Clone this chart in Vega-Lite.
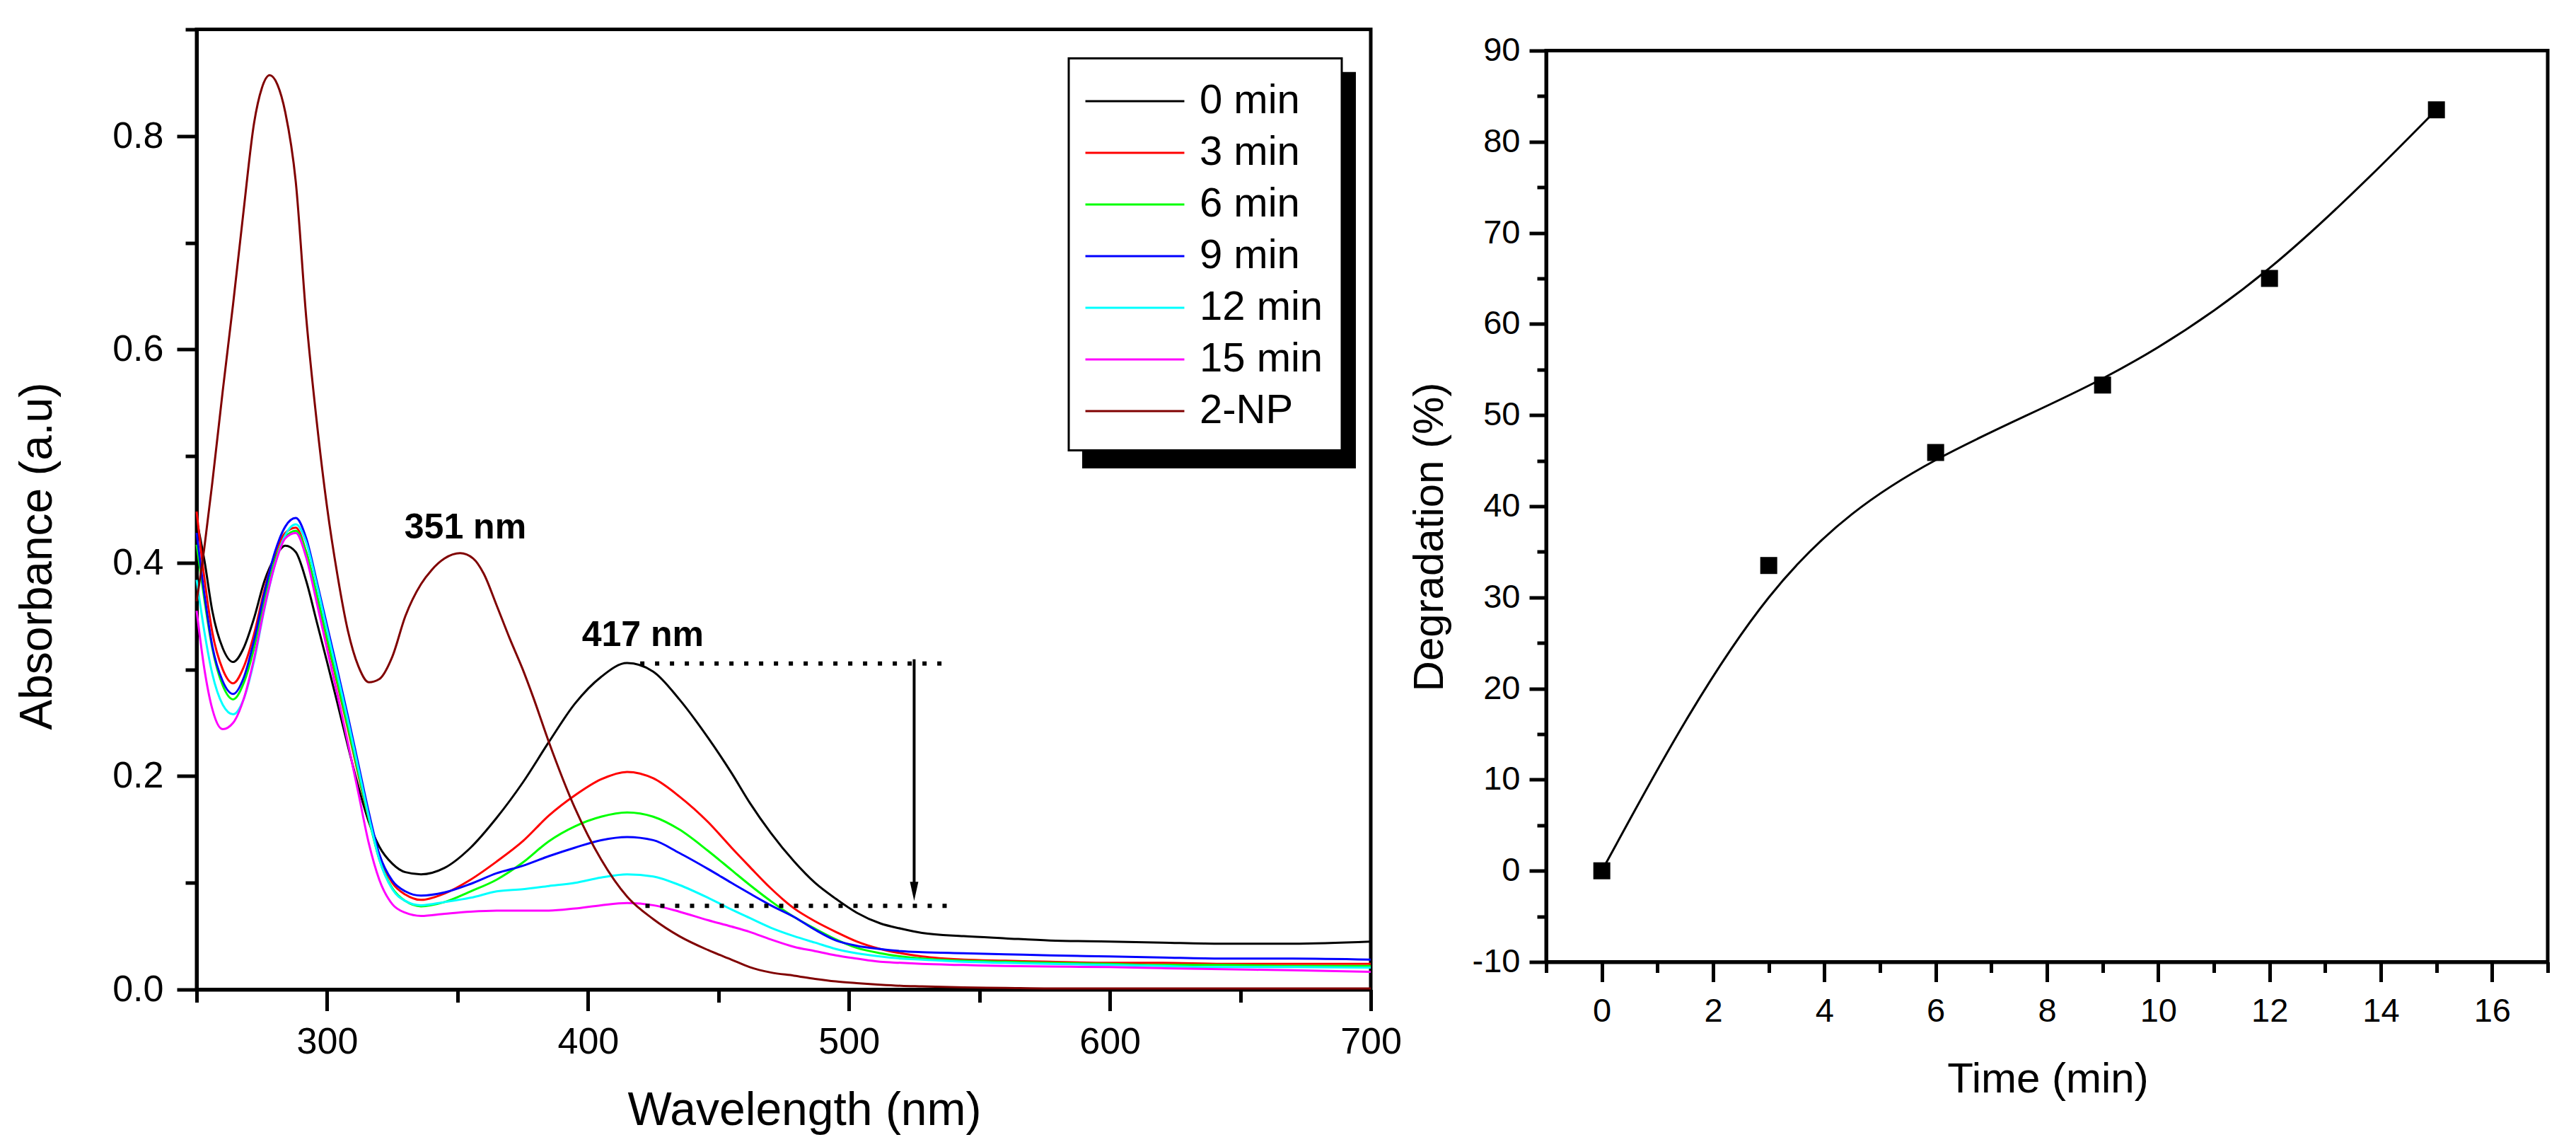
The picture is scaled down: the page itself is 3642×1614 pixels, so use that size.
{
  "$schema": "https://vega.github.io/schema/vega-lite/v6.json",
  "background": "white",
  "padding": {"left": 18, "top": 12.5, "right": 0, "bottom": 0},
  "spacing": 4,
  "config": {
    "font": "Liberation Sans",
    "view": {"stroke": "black", "strokeWidth": 5},
    "axis": {
      "grid": false, "domainColor": "black", "domainWidth": 5,
      "tickColor": "black", "tickWidth": 5,
      "labelColor": "black", "titleColor": "black",
      "labelFont": "Liberation Sans", "titleFont": "Liberation Sans",
      "titleFontWeight": "normal", "labelFlush": false, "labelOverlap": false
    },
    "legend": {"strokeColor": "black", "strokeWidth": 3, "fillColor": "white"}
  },
  "datasets": {
    "spectra": [
      {"s":"0 min","w":250,"a":0.440},{"s":"0 min","w":253,"a":0.402},{"s":"0 min","w":256,"a":0.355},{"s":"0 min","w":260,"a":0.320},{"s":"0 min","w":264,"a":0.307},
      {"s":"0 min","w":268,"a":0.320},{"s":"0 min","w":272,"a":0.348},{"s":"0 min","w":276,"a":0.383},{"s":"0 min","w":280,"a":0.405},{"s":"0 min","w":284,"a":0.416},
      {"s":"0 min","w":288,"a":0.410},{"s":"0 min","w":292,"a":0.383},{"s":"0 min","w":296,"a":0.345},{"s":"0 min","w":300,"a":0.307},{"s":"0 min","w":304,"a":0.268},
      {"s":"0 min","w":308,"a":0.228},{"s":"0 min","w":312,"a":0.190},{"s":"0 min","w":316,"a":0.157},{"s":"0 min","w":320,"a":0.134},{"s":"0 min","w":325,"a":0.118},
      {"s":"0 min","w":330,"a":0.110},{"s":"0 min","w":336,"a":0.108},{"s":"0 min","w":345,"a":0.114},{"s":"0 min","w":355,"a":0.133},{"s":"0 min","w":365,"a":0.161},
      {"s":"0 min","w":375,"a":0.194},{"s":"0 min","w":385,"a":0.232},{"s":"0 min","w":395,"a":0.268},{"s":"0 min","w":405,"a":0.293},{"s":"0 min","w":415,"a":0.306},
      {"s":"0 min","w":425,"a":0.298},{"s":"0 min","w":435,"a":0.272},{"s":"0 min","w":446,"a":0.236},{"s":"0 min","w":455,"a":0.203},{"s":"0 min","w":462,"a":0.175},
      {"s":"0 min","w":470,"a":0.147},{"s":"0 min","w":479,"a":0.120},{"s":"0 min","w":487,"a":0.100},{"s":"0 min","w":495,"a":0.085},{"s":"0 min","w":503,"a":0.072},
      {"s":"0 min","w":512,"a":0.062},{"s":"0 min","w":520,"a":0.057},{"s":"0 min","w":528,"a":0.053},{"s":"0 min","w":544,"a":0.050},{"s":"0 min","w":560,"a":0.048},
      {"s":"0 min","w":577,"a":0.046},{"s":"0 min","w":600,"a":0.045},{"s":"0 min","w":620,"a":0.044},{"s":"0 min","w":643,"a":0.043},{"s":"0 min","w":670,"a":0.043},
      {"s":"0 min","w":700,"a":0.045},

      {"s":"3 min","w":250,"a":0.448},{"s":"3 min","w":253,"a":0.385},{"s":"3 min","w":256,"a":0.335},{"s":"3 min","w":260,"a":0.300},{"s":"3 min","w":264,"a":0.287},
      {"s":"3 min","w":268,"a":0.302},{"s":"3 min","w":272,"a":0.333},{"s":"3 min","w":276,"a":0.375},{"s":"3 min","w":280,"a":0.408},{"s":"3 min","w":284,"a":0.428},
      {"s":"3 min","w":288,"a":0.433},{"s":"3 min","w":292,"a":0.410},{"s":"3 min","w":296,"a":0.370},{"s":"3 min","w":300,"a":0.327},{"s":"3 min","w":304,"a":0.286},
      {"s":"3 min","w":308,"a":0.244},{"s":"3 min","w":312,"a":0.201},{"s":"3 min","w":316,"a":0.160},{"s":"3 min","w":320,"a":0.126},{"s":"3 min","w":325,"a":0.100},
      {"s":"3 min","w":330,"a":0.089},{"s":"3 min","w":336,"a":0.084},{"s":"3 min","w":345,"a":0.090},{"s":"3 min","w":355,"a":0.103},{"s":"3 min","w":365,"a":0.120},
      {"s":"3 min","w":375,"a":0.139},{"s":"3 min","w":385,"a":0.163},{"s":"3 min","w":395,"a":0.182},{"s":"3 min","w":405,"a":0.197},{"s":"3 min","w":415,"a":0.204},
      {"s":"3 min","w":425,"a":0.198},{"s":"3 min","w":435,"a":0.181},{"s":"3 min","w":446,"a":0.157},{"s":"3 min","w":455,"a":0.133},{"s":"3 min","w":462,"a":0.115},
      {"s":"3 min","w":470,"a":0.095},{"s":"3 min","w":479,"a":0.076},{"s":"3 min","w":487,"a":0.064},{"s":"3 min","w":495,"a":0.054},{"s":"3 min","w":503,"a":0.045},
      {"s":"3 min","w":512,"a":0.038},{"s":"3 min","w":520,"a":0.034},{"s":"3 min","w":528,"a":0.031},{"s":"3 min","w":544,"a":0.028},{"s":"3 min","w":560,"a":0.027},
      {"s":"3 min","w":577,"a":0.026},{"s":"3 min","w":600,"a":0.025},{"s":"3 min","w":620,"a":0.025},{"s":"3 min","w":643,"a":0.024},{"s":"3 min","w":670,"a":0.024},
      {"s":"3 min","w":700,"a":0.024},

      {"s":"6 min","w":250,"a":0.417},{"s":"6 min","w":253,"a":0.365},{"s":"6 min","w":256,"a":0.320},{"s":"6 min","w":260,"a":0.285},{"s":"6 min","w":264,"a":0.272},
      {"s":"6 min","w":268,"a":0.287},{"s":"6 min","w":272,"a":0.320},{"s":"6 min","w":276,"a":0.365},{"s":"6 min","w":280,"a":0.402},{"s":"6 min","w":284,"a":0.424},
      {"s":"6 min","w":288,"a":0.430},{"s":"6 min","w":292,"a":0.410},{"s":"6 min","w":296,"a":0.371},{"s":"6 min","w":300,"a":0.329},{"s":"6 min","w":304,"a":0.288},
      {"s":"6 min","w":308,"a":0.246},{"s":"6 min","w":312,"a":0.203},{"s":"6 min","w":316,"a":0.160},{"s":"6 min","w":320,"a":0.122},{"s":"6 min","w":325,"a":0.095},
      {"s":"6 min","w":330,"a":0.083},{"s":"6 min","w":336,"a":0.078},{"s":"6 min","w":345,"a":0.082},{"s":"6 min","w":355,"a":0.092},{"s":"6 min","w":365,"a":0.103},
      {"s":"6 min","w":375,"a":0.119},{"s":"6 min","w":385,"a":0.139},{"s":"6 min","w":395,"a":0.153},{"s":"6 min","w":405,"a":0.162},{"s":"6 min","w":415,"a":0.166},
      {"s":"6 min","w":425,"a":0.162},{"s":"6 min","w":435,"a":0.150},{"s":"6 min","w":446,"a":0.130},{"s":"6 min","w":455,"a":0.112},{"s":"6 min","w":462,"a":0.098},
      {"s":"6 min","w":470,"a":0.083},{"s":"6 min","w":479,"a":0.068},{"s":"6 min","w":487,"a":0.057},{"s":"6 min","w":495,"a":0.047},{"s":"6 min","w":503,"a":0.039},
      {"s":"6 min","w":512,"a":0.034},{"s":"6 min","w":520,"a":0.031},{"s":"6 min","w":528,"a":0.029},{"s":"6 min","w":544,"a":0.027},{"s":"6 min","w":560,"a":0.026},
      {"s":"6 min","w":577,"a":0.025},{"s":"6 min","w":600,"a":0.024},{"s":"6 min","w":620,"a":0.023},{"s":"6 min","w":643,"a":0.023},{"s":"6 min","w":670,"a":0.022},
      {"s":"6 min","w":700,"a":0.022},

      {"s":"9 min","w":250,"a":0.428},{"s":"9 min","w":253,"a":0.370},{"s":"9 min","w":256,"a":0.322},{"s":"9 min","w":260,"a":0.289},{"s":"9 min","w":264,"a":0.277},
      {"s":"9 min","w":268,"a":0.292},{"s":"9 min","w":272,"a":0.327},{"s":"9 min","w":276,"a":0.372},{"s":"9 min","w":280,"a":0.410},{"s":"9 min","w":284,"a":0.434},
      {"s":"9 min","w":288,"a":0.442},{"s":"9 min","w":292,"a":0.423},{"s":"9 min","w":296,"a":0.383},{"s":"9 min","w":300,"a":0.341},{"s":"9 min","w":304,"a":0.299},
      {"s":"9 min","w":308,"a":0.256},{"s":"9 min","w":312,"a":0.211},{"s":"9 min","w":316,"a":0.166},{"s":"9 min","w":320,"a":0.127},{"s":"9 min","w":325,"a":0.102},
      {"s":"9 min","w":330,"a":0.092},{"s":"9 min","w":336,"a":0.088},{"s":"9 min","w":345,"a":0.091},{"s":"9 min","w":355,"a":0.099},{"s":"9 min","w":365,"a":0.109},
      {"s":"9 min","w":375,"a":0.116},{"s":"9 min","w":385,"a":0.125},{"s":"9 min","w":395,"a":0.133},{"s":"9 min","w":405,"a":0.140},{"s":"9 min","w":415,"a":0.143},
      {"s":"9 min","w":425,"a":0.140},{"s":"9 min","w":435,"a":0.128},{"s":"9 min","w":446,"a":0.113},{"s":"9 min","w":455,"a":0.100},{"s":"9 min","w":462,"a":0.090},
      {"s":"9 min","w":470,"a":0.079},{"s":"9 min","w":479,"a":0.068},{"s":"9 min","w":487,"a":0.056},{"s":"9 min","w":495,"a":0.046},{"s":"9 min","w":503,"a":0.041},
      {"s":"9 min","w":512,"a":0.038},{"s":"9 min","w":520,"a":0.036},{"s":"9 min","w":528,"a":0.035},{"s":"9 min","w":544,"a":0.034},{"s":"9 min","w":560,"a":0.033},
      {"s":"9 min","w":577,"a":0.032},{"s":"9 min","w":600,"a":0.031},{"s":"9 min","w":620,"a":0.030},{"s":"9 min","w":643,"a":0.029},{"s":"9 min","w":670,"a":0.029},
      {"s":"9 min","w":700,"a":0.028},

      {"s":"12 min","w":250,"a":0.384},{"s":"12 min","w":253,"a":0.335},{"s":"12 min","w":256,"a":0.296},{"s":"12 min","w":260,"a":0.267},{"s":"12 min","w":264,"a":0.258},
      {"s":"12 min","w":268,"a":0.272},{"s":"12 min","w":272,"a":0.308},{"s":"12 min","w":276,"a":0.357},{"s":"12 min","w":280,"a":0.398},{"s":"12 min","w":284,"a":0.426},
      {"s":"12 min","w":288,"a":0.436},{"s":"12 min","w":292,"a":0.419},{"s":"12 min","w":296,"a":0.380},{"s":"12 min","w":300,"a":0.337},{"s":"12 min","w":304,"a":0.295},
      {"s":"12 min","w":308,"a":0.252},{"s":"12 min","w":312,"a":0.207},{"s":"12 min","w":316,"a":0.162},{"s":"12 min","w":320,"a":0.122},{"s":"12 min","w":325,"a":0.094},
      {"s":"12 min","w":330,"a":0.083},{"s":"12 min","w":336,"a":0.079},{"s":"12 min","w":345,"a":0.082},{"s":"12 min","w":355,"a":0.086},{"s":"12 min","w":365,"a":0.092},
      {"s":"12 min","w":375,"a":0.094},{"s":"12 min","w":385,"a":0.097},{"s":"12 min","w":395,"a":0.100},{"s":"12 min","w":405,"a":0.105},{"s":"12 min","w":415,"a":0.108},
      {"s":"12 min","w":425,"a":0.106},{"s":"12 min","w":435,"a":0.098},{"s":"12 min","w":446,"a":0.086},{"s":"12 min","w":455,"a":0.075},{"s":"12 min","w":462,"a":0.067},
      {"s":"12 min","w":470,"a":0.058},{"s":"12 min","w":479,"a":0.050},{"s":"12 min","w":487,"a":0.044},{"s":"12 min","w":495,"a":0.038},{"s":"12 min","w":503,"a":0.034},
      {"s":"12 min","w":512,"a":0.031},{"s":"12 min","w":520,"a":0.029},{"s":"12 min","w":528,"a":0.028},{"s":"12 min","w":544,"a":0.026},{"s":"12 min","w":560,"a":0.025},
      {"s":"12 min","w":577,"a":0.024},{"s":"12 min","w":600,"a":0.023},{"s":"12 min","w":620,"a":0.022},{"s":"12 min","w":643,"a":0.021},{"s":"12 min","w":670,"a":0.021},
      {"s":"12 min","w":700,"a":0.0205},

      {"s":"15 min","w":250,"a":0.355},{"s":"15 min","w":253,"a":0.300},{"s":"15 min","w":256,"a":0.263},{"s":"15 min","w":260,"a":0.244},{"s":"15 min","w":264,"a":0.250},
      {"s":"15 min","w":268,"a":0.272},{"s":"15 min","w":272,"a":0.310},{"s":"15 min","w":276,"a":0.358},{"s":"15 min","w":280,"a":0.398},{"s":"15 min","w":284,"a":0.423},
      {"s":"15 min","w":288,"a":0.428},{"s":"15 min","w":292,"a":0.405},{"s":"15 min","w":296,"a":0.363},{"s":"15 min","w":300,"a":0.319},{"s":"15 min","w":304,"a":0.276},
      {"s":"15 min","w":308,"a":0.231},{"s":"15 min","w":312,"a":0.184},{"s":"15 min","w":316,"a":0.137},{"s":"15 min","w":320,"a":0.103},{"s":"15 min","w":325,"a":0.080},
      {"s":"15 min","w":330,"a":0.072},{"s":"15 min","w":336,"a":0.069},{"s":"15 min","w":345,"a":0.071},{"s":"15 min","w":355,"a":0.073},{"s":"15 min","w":365,"a":0.074},
      {"s":"15 min","w":375,"a":0.074},{"s":"15 min","w":385,"a":0.074},{"s":"15 min","w":395,"a":0.076},{"s":"15 min","w":405,"a":0.079},{"s":"15 min","w":415,"a":0.081},
      {"s":"15 min","w":425,"a":0.079},{"s":"15 min","w":435,"a":0.073},{"s":"15 min","w":446,"a":0.065},{"s":"15 min","w":455,"a":0.059},{"s":"15 min","w":462,"a":0.054},
      {"s":"15 min","w":470,"a":0.047},{"s":"15 min","w":479,"a":0.040},{"s":"15 min","w":487,"a":0.036},{"s":"15 min","w":495,"a":0.032},{"s":"15 min","w":503,"a":0.029},
      {"s":"15 min","w":512,"a":0.026},{"s":"15 min","w":520,"a":0.025},{"s":"15 min","w":528,"a":0.024},{"s":"15 min","w":544,"a":0.023},{"s":"15 min","w":560,"a":0.022},
      {"s":"15 min","w":577,"a":0.0215},{"s":"15 min","w":600,"a":0.021},{"s":"15 min","w":620,"a":0.020},{"s":"15 min","w":643,"a":0.019},{"s":"15 min","w":670,"a":0.018},
      {"s":"15 min","w":700,"a":0.0166},

      {"s":"2-NP","w":250,"a":0.364},{"s":"2-NP","w":253,"a":0.415},{"s":"2-NP","w":256,"a":0.475},{"s":"2-NP","w":260,"a":0.561},{"s":"2-NP","w":264,"a":0.643},
      {"s":"2-NP","w":268,"a":0.730},{"s":"2-NP","w":272,"a":0.812},{"s":"2-NP","w":275,"a":0.845},{"s":"2-NP","w":278,"a":0.857},{"s":"2-NP","w":281,"a":0.848},
      {"s":"2-NP","w":284,"a":0.822},{"s":"2-NP","w":288,"a":0.757},{"s":"2-NP","w":292,"a":0.630},{"s":"2-NP","w":296,"a":0.533},{"s":"2-NP","w":300,"a":0.452},
      {"s":"2-NP","w":304,"a":0.388},{"s":"2-NP","w":308,"a":0.336},{"s":"2-NP","w":312,"a":0.303},{"s":"2-NP","w":316,"a":0.288},{"s":"2-NP","w":320,"a":0.291},
      {"s":"2-NP","w":325,"a":0.312},{"s":"2-NP","w":330,"a":0.350},{"s":"2-NP","w":336,"a":0.380},{"s":"2-NP","w":340,"a":0.393},{"s":"2-NP","w":345,"a":0.404},
      {"s":"2-NP","w":351,"a":0.409},{"s":"2-NP","w":356,"a":0.404},{"s":"2-NP","w":360,"a":0.390},{"s":"2-NP","w":365,"a":0.360},{"s":"2-NP","w":370,"a":0.329},
      {"s":"2-NP","w":375,"a":0.300},{"s":"2-NP","w":379,"a":0.274},{"s":"2-NP","w":385,"a":0.232},{"s":"2-NP","w":395,"a":0.170},{"s":"2-NP","w":405,"a":0.122},
      {"s":"2-NP","w":415,"a":0.087},{"s":"2-NP","w":425,"a":0.066},{"s":"2-NP","w":435,"a":0.050},{"s":"2-NP","w":446,"a":0.037},{"s":"2-NP","w":455,"a":0.028},
      {"s":"2-NP","w":462,"a":0.021},{"s":"2-NP","w":470,"a":0.016},{"s":"2-NP","w":479,"a":0.013},{"s":"2-NP","w":487,"a":0.010},{"s":"2-NP","w":495,"a":0.0076},
      {"s":"2-NP","w":503,"a":0.006},{"s":"2-NP","w":512,"a":0.0045},{"s":"2-NP","w":520,"a":0.0035},{"s":"2-NP","w":528,"a":0.003},{"s":"2-NP","w":544,"a":0.002},
      {"s":"2-NP","w":560,"a":0.0015},{"s":"2-NP","w":577,"a":0.001},{"s":"2-NP","w":620,"a":0.001},{"s":"2-NP","w":700,"a":0.001}
    ],
    "degradation": [
      {"t": 0, "d": 0},
      {"t": 3, "d": 33.5},
      {"t": 6, "d": 45.9},
      {"t": 9, "d": 53.3},
      {"t": 12, "d": 65},
      {"t": 15, "d": 83.5}
    ]
  },
  "hconcat": [
    {
      "width": 1660,
      "height": 1357,
      "layer": [
        {
          "data": {"name": "spectra"},
          "mark": {"type": "line", "strokeWidth": 3, "interpolate": "monotone"},
          "encoding": {
            "x": {
              "field": "w", "type": "quantitative",
              "scale": {"domain": [250, 700], "nice": false, "zero": false},
              "axis": {
                "values": [250, 300, 350, 400, 450, 500, 550, 600, 650, 700],
                "title": "Wavelength (nm)", "titleFontSize": 66,
                "titleX": 859, "titleY": 191, "titleBaseline": "alphabetic",
                "labelFontSize": 52, "labelPadding": 19,
                "tickSize": {"condition": {"test": "datum.value % 100 === 0", "value": 30}, "value": 18},
                "labelExpr": "datum.value % 100 === 0 ? datum.label : ''"
              }
            },
            "y": {
              "field": "a", "type": "quantitative",
              "scale": {"domain": [0, 0.9], "nice": false, "zero": false},
              "axis": {
                "values": [0, 0.1, 0.2, 0.3, 0.4, 0.5, 0.6, 0.7, 0.8, 0.9],
                "title": "Absorbance (a.u)", "titleFontSize": 64,
                "titleX": -206, "titleY": 744, "titleBaseline": "alphabetic",
                "labelFontSize": 52, "labelPadding": 19,
                "tickSize": {"condition": {"test": "indexof([0, 0.2, 0.4, 0.6, 0.8], datum.value) >= 0", "value": 28}, "value": 16},
                "labelExpr": "indexof([0, 0.2, 0.4, 0.6, 0.8], datum.value) >= 0 ? format(datum.value, '.1f') : ''"
              }
            },
            "color": {
              "field": "s", "type": "nominal",
              "scale": {
                "domain": ["0 min", "3 min", "6 min", "9 min", "12 min", "15 min", "2-NP"],
                "range": ["#000000", "#ff0000", "#00ff00", "#0000ff", "#00ffff", "#ff00ff", "#800000"]
              },
              "legend": {
                "title": null, "orient": "none", "legendX": 1233, "legendY": 41,
                "padding": 26, "rowPadding": 9,
                "labelFontSize": 58, "labelFont": "Liberation Sans", "labelColor": "black",
                "labelOffset": 90, "labelLimit": 400,
                "symbolType": "M-1.12,0L3.12,0", "symbolSize": 4356, "symbolStrokeWidth": 3
              }
            }
          }
        },
        {
          "data": {"values": [{"x1": 589.4, "x2": 694.3, "y1": 0.4885, "y2": 0.86}]},
          "mark": {"type": "rect", "color": "black"},
          "encoding": {
            "x": {"field": "x1", "type": "quantitative"},
            "x2": {"field": "x2"},
            "y": {"field": "y1", "type": "quantitative"},
            "y2": {"field": "y2"}
          }
        },
        {
          "data": {"values": [
            {"from": 420, "to": 536, "level": 0.3055},
            {"from": 422, "to": 541, "level": 0.0785}
          ]},
          "mark": {"type": "rule", "color": "black", "strokeWidth": 6, "strokeDash": [6, 15]},
          "encoding": {
            "x": {"field": "from", "type": "quantitative"},
            "x2": {"field": "to"},
            "y": {"field": "level", "type": "quantitative"}
          }
        },
        {
          "data": {"values": [{"at": 525, "top": 0.3095, "bottom": 0.1}]},
          "mark": {"type": "rule", "color": "black", "strokeWidth": 4},
          "encoding": {
            "x": {"field": "at", "type": "quantitative"},
            "y": {"field": "top", "type": "quantitative"},
            "y2": {"field": "bottom"}
          }
        },
        {
          "data": {"values": [{"at": 525, "tip": 0.092}]},
          "mark": {"type": "point", "shape": "M-0.44,-1L0.44,-1L0,1Z", "filled": true, "color": "black", "opacity": 1, "size": 729},
          "encoding": {
            "x": {"field": "at", "type": "quantitative"},
            "y": {"field": "tip", "type": "quantitative"}
          }
        },
        {
          "data": {"values": [
            {"at": 353, "level": 0.433, "label": "351 nm"},
            {"at": 421, "level": 0.332, "label": "417 nm"}
          ]},
          "mark": {"type": "text", "font": "Liberation Sans", "fontSize": 50, "fontWeight": "bold", "color": "black", "align": "center", "baseline": "middle"},
          "encoding": {
            "x": {"field": "at", "type": "quantitative"},
            "y": {"field": "level", "type": "quantitative"},
            "text": {"field": "label"}
          }
        }
      ]
    },
    {
      "spacing": -3,
      "vconcat": [
        {
          "width": 1416,
          "height": 1,
          "view": {"stroke": null},
          "data": {"values": [{}]},
          "mark": {"type": "text", "text": ""}
        },
        {
          "width": 1416,
          "height": 1288,
          "data": {"name": "degradation"},
          "encoding": {
            "x": {
              "field": "t", "type": "quantitative",
              "scale": {"domain": [-1, 17], "nice": false, "zero": false},
              "axis": {
                "values": [-1, 0, 1, 2, 3, 4, 5, 6, 7, 8, 9, 10, 11, 12, 13, 14, 15, 16, 17],
                "title": "Time (min)", "titleFontSize": 60,
                "titleX": 709, "titleY": 184, "titleBaseline": "alphabetic",
                "labelFontSize": 47, "labelPadding": 19,
                "tickSize": {"condition": {"test": "datum.value % 2 === 0", "value": 28}, "value": 15},
                "labelExpr": "datum.value % 2 === 0 && datum.value >= 0 && datum.value <= 16 ? '' + datum.value : ''"
              }
            },
            "y": {
              "field": "d", "type": "quantitative",
              "scale": {"domain": [-10, 90], "nice": false, "zero": false},
              "axis": {
                "values": [-10, -5, 0, 5, 10, 15, 20, 25, 30, 35, 40, 45, 50, 55, 60, 65, 70, 75, 80, 85, 90],
                "title": "Degradation (%)", "titleFontSize": 60,
                "titleX": -147, "titleY": 687, "titleBaseline": "alphabetic",
                "labelFontSize": 47, "labelPadding": 13,
                "tickSize": {"condition": {"test": "datum.value % 10 === 0", "value": 24}, "value": 13},
                "labelExpr": "datum.value % 10 === 0 ? '' + datum.value : ''"
              }
            }
          },
          "layer": [
            {"mark": {"type": "line", "interpolate": "basis", "color": "black", "strokeWidth": 3}},
            {"mark": {"type": "point", "shape": "square", "filled": true, "color": "black", "opacity": 1, "size": 576}}
          ]
        }
      ]
    }
  ]
}
